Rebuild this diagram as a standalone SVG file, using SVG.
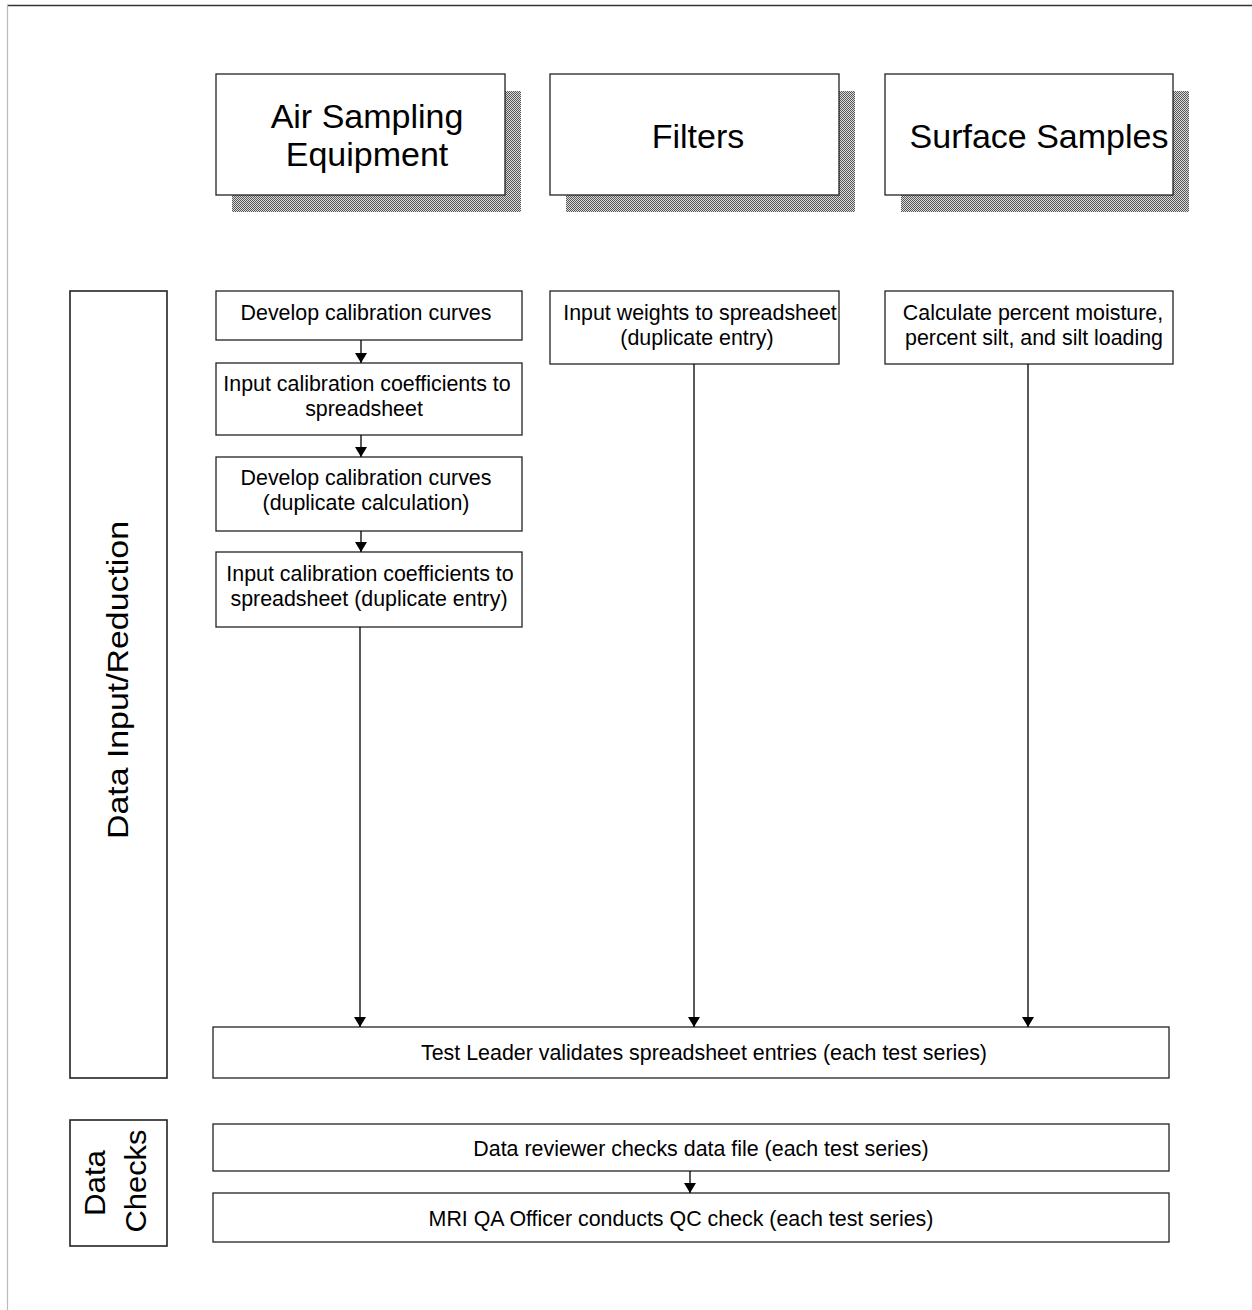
<svg xmlns="http://www.w3.org/2000/svg" width="1252" height="1310" viewBox="0 0 1252 1310">
<style>
.box{fill:#fff;stroke:#222;stroke-width:1.3}
.lbl{fill:#fff;stroke:#222;stroke-width:1.6}
.t{font-family:"Liberation Sans",Arial,sans-serif;font-size:21.4px;fill:#000;text-anchor:middle}
.h{font-family:"Liberation Sans",Arial,sans-serif;font-size:34px;fill:#000;text-anchor:middle}
.v{font-family:"Liberation Sans",Arial,sans-serif;font-size:29px;fill:#000;text-anchor:middle}
.c{stroke:#000;stroke-width:1.3;fill:none;marker-end:url(#ah)}
</style>
<defs>
<pattern id="dots" width="2" height="2" patternUnits="userSpaceOnUse">
<rect width="2" height="2" fill="#ddd"/>
<rect width="1" height="1" fill="#555"/>
<rect x="1" y="1" width="1" height="1" fill="#555"/>
</pattern>
<marker id="ah" markerWidth="10" markerHeight="12" refX="10" refY="6" orient="auto" markerUnits="userSpaceOnUse">
<path d="M0,0 L10,6 L0,12 z" fill="#000"/>
</marker>
</defs>
<rect width="1252" height="1310" fill="#fff"/>
<line x1="7" y1="5.5" x2="1252" y2="5.5" stroke="#333" stroke-width="1.5"/>
<line x1="7.5" y1="5" x2="7.5" y2="1310" stroke="#bbb" stroke-width="1.2"/>

<g id="hdr-air">
<rect x="232" y="91" width="289" height="121" fill="url(#dots)"/>
<rect class="box" x="216" y="74" width="289" height="121"/>
<text class="h" x="367" y="128">Air Sampling</text>
<text class="h" x="367" y="166">Equipment</text>
</g>
<g id="hdr-filters">
<rect x="566" y="91" width="289" height="121" fill="url(#dots)"/>
<rect class="box" x="550" y="74" width="289" height="121"/>
<text class="h" x="698" y="148">Filters</text>
</g>
<g id="hdr-surface">
<rect x="901" y="91" width="288" height="121" fill="url(#dots)"/>
<rect class="box" x="885" y="74" width="288" height="121"/>
<text class="h" x="1039" y="148">Surface Samples</text>
</g>

<g id="lbl-input">
<rect class="lbl" x="70" y="291" width="97" height="787"/>
<text class="v" transform="translate(128,680) rotate(-90)" textLength="318" lengthAdjust="spacingAndGlyphs">Data Input/Reduction</text>
</g>
<g id="lbl-checks">
<rect class="lbl" x="70" y="1120" width="97" height="126"/>
<text class="v" transform="translate(105,1183) rotate(-90)" textLength="66" lengthAdjust="spacingAndGlyphs">Data</text>
<text class="v" transform="translate(146,1181) rotate(-90)" textLength="103" lengthAdjust="spacingAndGlyphs">Checks</text>
</g>

<g id="n1">
<rect class="box" x="216" y="291" width="306" height="49"/>
<text class="t" x="366" y="320">Develop calibration curves</text>
</g>
<g id="n2">
<rect class="box" x="216" y="363" width="306" height="72"/>
<text class="t" x="367" y="391">Input calibration coefficients to</text>
<text class="t" x="364" y="416">spreadsheet</text>
</g>
<g id="n3">
<rect class="box" x="216" y="457" width="306" height="74"/>
<text class="t" x="366" y="485">Develop calibration curves</text>
<text class="t" x="366" y="510">(duplicate calculation)</text>
</g>
<g id="n4">
<rect class="box" x="216" y="552" width="306" height="75"/>
<text class="t" x="370" y="581">Input calibration coefficients to</text>
<text class="t" x="369" y="606">spreadsheet (duplicate entry)</text>
</g>
<g id="n5">
<rect class="box" x="550" y="291" width="289" height="73"/>
<text class="t" x="700" y="320">Input weights to spreadsheet</text>
<text class="t" x="697" y="345">(duplicate entry)</text>
</g>
<g id="n6">
<rect class="box" x="885" y="291" width="288" height="73"/>
<text class="t" x="1033" y="320">Calculate percent moisture,</text>
<text class="t" x="1034" y="345">percent silt, and silt loading</text>
</g>
<g id="n7">
<rect class="box" x="213" y="1027" width="956" height="51"/>
<text class="t" x="704" y="1060">Test Leader validates spreadsheet entries (each test series)</text>
</g>
<g id="n8">
<rect class="box" x="213" y="1124" width="956" height="47"/>
<text class="t" x="701" y="1156">Data reviewer checks data file (each test series)</text>
</g>
<g id="n9">
<rect class="box" x="213" y="1193" width="956" height="49"/>
<text class="t" x="681" y="1226">MRI QA Officer conducts QC check (each test series)</text>
</g>

<g id="connectors">
<line class="c" x1="361" y1="340" x2="361" y2="363"/>
<line class="c" x1="361" y1="435" x2="361" y2="457"/>
<line class="c" x1="361" y1="531" x2="361" y2="552"/>
<line class="c" x1="360" y1="627" x2="360" y2="1027"/>
<line class="c" x1="694" y1="364" x2="694" y2="1027"/>
<line class="c" x1="1028" y1="364" x2="1028" y2="1027"/>
<line class="c" x1="690" y1="1171" x2="690" y2="1193"/>
</g>
</svg>
